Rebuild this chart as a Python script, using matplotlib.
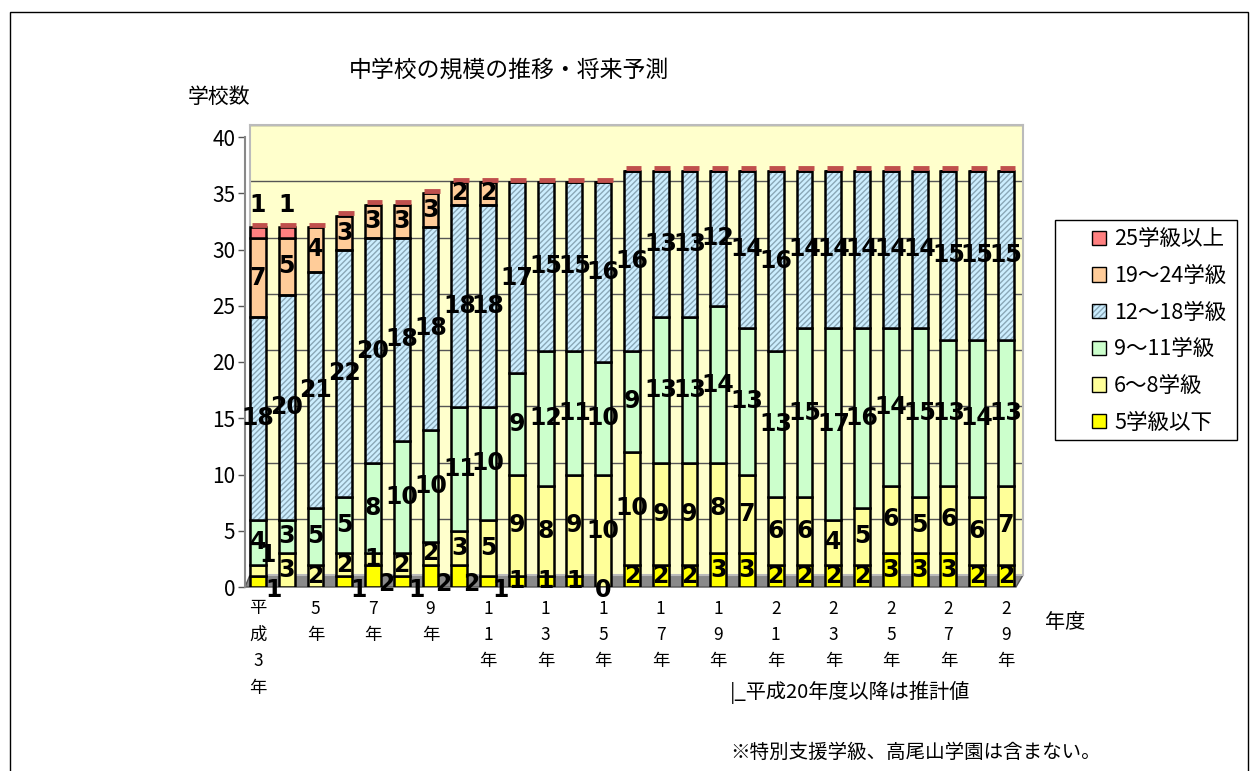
import numpy as np
import matplotlib
matplotlib.use("Agg")
import matplotlib.pyplot as plt
import matplotlib.transforms as mtransforms
from matplotlib.patches import Patch, Polygon, Rectangle

plt.rcParams['font.family'] = ['Noto Sans CJK JP', 'DejaVu Sans']
plt.rcParams['hatch.linewidth'] = 1.0

# ---------------- data ----------------
years = list(range(3, 30))  # 平成3年 .. 平成29年
xlabels = ["平\n成\n3\n年", "", "5\n年", "", "7\n年", "", "9\n年", "",
           "1\n1\n年", "", "1\n3\n年", "", "1\n5\n年", "", "1\n7\n年", "",
           "1\n9\n年", "", "2\n1\n年", "", "2\n3\n年", "", "2\n5\n年", "",
           "2\n7\n年", "", "2\n9\n年"]
series_names = ["5学級以下", "6～8学級", "9～11学級", "12～18学級", "19～24学級", "25学級以上"]
s_le5   = [1, 0, 0, 1, 2, 1, 2, 2, 1, 1, 1, 1, 0, 2, 2, 2, 3, 3, 2, 2, 2, 2, 3, 3, 3, 2, 2]
s_6_8   = [1, 3, 2, 2, 1, 2, 2, 3, 5, 9, 8, 9, 10, 10, 9, 9, 8, 7, 6, 6, 4, 5, 6, 5, 6, 6, 7]
s_9_11  = [4, 3, 5, 5, 8, 10, 10, 11, 10, 9, 12, 11, 10, 9, 13, 13, 14, 13, 13, 15, 17, 16, 14, 15, 13, 14, 13]
s_12_18 = [18, 20, 21, 22, 20, 18, 18, 18, 18, 17, 15, 15, 16, 16, 13, 13, 12, 14, 16, 14, 14, 14, 14, 14, 15, 15, 15]
s_19_24 = [7, 5, 4, 3, 3, 3, 3, 2, 2, 0, 0, 0, 0, 0, 0, 0, 0, 0, 0, 0, 0, 0, 0, 0, 0, 0, 0]
s_ge25  = [1, 1, 0, 0, 0, 0, 0, 0, 0, 0, 0, 0, 0, 0, 0, 0, 0, 0, 0, 0, 0, 0, 0, 0, 0, 0, 0]
zero_label_year = 15  # the only zero value printed in the chart (5学級以下, 平成15年)

series = [s_le5, s_6_8, s_9_11, s_12_18, s_19_24, s_ge25]
colors = ["#FFFF00", "#FFFF99", "#CCFFCC", "#CCEEFF", "#FFCC99", "#FF8080"]
hatches = [None, None, None, "//////", None, None]

# label placement tweaks (series index, year) -> (dx in bar units, absolute y)
label_shift = {(0, 3): (0.55, -0.25), (0, 6): (0.5, -0.25), (0, 7): (0.45, 0.3),
               (0, 8): (0.5, -0.25), (0, 9): (0.45, 0.3), (0, 10): (0.4, 0.3),
               (0, 11): (0.45, -0.25), (0, 15): (0.0, -0.3), (1, 3): (0.35, 2.8),
               (5, 3): (0.0, 34.0), (5, 4): (0.0, 34.0)}

W, H = 1257, 771
fig = plt.figure(figsize=(W / 100, H / 100), dpi=100)

def fx(px):
    return px / W

def fy(py):
    return 1 - py / H

# outer frame
fig.add_artist(Rectangle((fx(10), fy(780)), fx(1248) - fx(10), fy(12) - fy(780),
                         transform=fig.transFigure, fill=False, edgecolor='black', lw=1.0))

# back wall (3D-like offset)
wall = fig.add_axes([fx(250), fy(575), fx(1023) - fx(250), fy(125) - fy(575)])
wall.set_facecolor("#FFFFCC")
wall.set_ylim(0, 40)
wall.set_yticks(np.arange(0, 41, 5))
wall.grid(axis='y', color='#555555', lw=1.0)
wall.set_xticks([])
wall.tick_params(left=False, labelleft=False)
for sp in wall.spines.values():
    sp.set_color('#BBBBBB')
    sp.set_linewidth(1.5)

# floor (drawn under the bars)
floor = Polygon([(fx(245), fy(587)), (fx(1016), fy(587)), (fx(1023), fy(575)), (fx(250), fy(575))],
                closed=True, transform=fig.transFigure, facecolor='#8A8A8A', edgecolor='#555555',
                lw=1, clip_on=False)
wall.add_artist(floor)

ax = fig.add_axes([fx(245), fy(587), fx(1016) - fx(245), fy(137) - fy(587)])
ax.patch.set_alpha(0)
ax.set_ylim(0, 40)
ax.set_xlim(-0.45, 26.35)
ax.set_yticks(np.arange(0, 41, 5))
for sp in ['top', 'right', 'bottom']:
    ax.spines[sp].set_visible(False)
ax.spines['left'].set_color('#888888')
ax.spines['left'].set_linewidth(1.5)
ax.tick_params(axis='y', labelsize=15, length=5, width=1, color='#555555', pad=2)
x = np.arange(len(years))
ax.set_xticks(x)
ax.set_xticklabels(xlabels, fontsize=12.5, linespacing=1.6, va='top')
ax.tick_params(axis='x', length=0, pad=9)

bottom = np.zeros(len(years))
handles = []
width = 0.55
for s, (vals, col, hat, name) in enumerate(zip(series, colors, hatches, series_names)):
    vals = np.array(vals, dtype=float)
    if hat:
        ax.bar(x, vals, width, bottom=bottom, color=col, hatch=hat, edgecolor='#8AA7B7', lw=0, zorder=3)
        ax.bar(x, vals, width, bottom=bottom, facecolor='none', edgecolor='black', lw=1.8, zorder=4)
        handles.append((Patch(facecolor=col, hatch=hat, edgecolor='#8AA7B7', lw=0),
                        Patch(facecolor='none', edgecolor='black', lw=1.0)))
    else:
        ax.bar(x, vals, width, bottom=bottom, color=col, edgecolor='black', lw=1.8, zorder=3)
        handles.append(Patch(facecolor=col, edgecolor='black', lw=1.0))
    for i, v in enumerate(vals):
        if v > 0 or (s == 0 and years[i] == zero_label_year):
            xx, yy = x[i], bottom[i] + v / 2
            key = (s, years[i])
            if key in label_shift:
                dx, ay = label_shift[key]
                xx = xx + dx
                yy = ay
            ax.text(xx, yy, f"{int(v)}", ha='center', va='center',
                    fontsize=17, fontweight='bold', zorder=6,
                    family='DejaVu Sans', clip_on=False)
    bottom = bottom + vals

# 3D-like top face of each column (colour of the top series)
cap_tr = mtransforms.offset_copy(ax.transData, fig=fig, x=1.5, y=2.5, units='dots')
ax.hlines(bottom, x - width / 2, x + width / 2, colors='#C0504D', lw=3.5, transform=cap_tr, zorder=5)

# legend (frame drawn separately)
fig.add_artist(Rectangle((fx(1055), fy(440)), fx(1237) - fx(1055), fy(220) - fy(440),
                         transform=fig.transFigure, facecolor='white', edgecolor='black', lw=1.0))
leg = fig.legend(handles[::-1], series_names[::-1], loc='upper left',
                 bbox_to_anchor=(fx(1086), fy(222)), fontsize=15.5, frameon=False,
                 handlelength=0.65, handleheight=0.65,
                 labelspacing=0.68, handletextpad=0.35, borderpad=0.3, borderaxespad=0)

fig.text(fx(509), fy(70), "中学校の規模の推移・将来予測", ha='center', va='center', fontsize=16.5)
fig.text(fx(188), fy(97), "学校数", ha='left', va='center', fontsize=15)
fig.text(fx(1045), fy(623), "年度", ha='left', va='center', fontsize=14.5)
fig.text(fx(730), fy(692), "|_平成20年度以降は推計値", ha='left', va='center', fontsize=14.5)
fig.text(fx(730), fy(752), "※特別支援学級、高尾山学園は含まない。", ha='left', va='center', fontsize=14)

fig.savefig("out.png", dpi=100)
